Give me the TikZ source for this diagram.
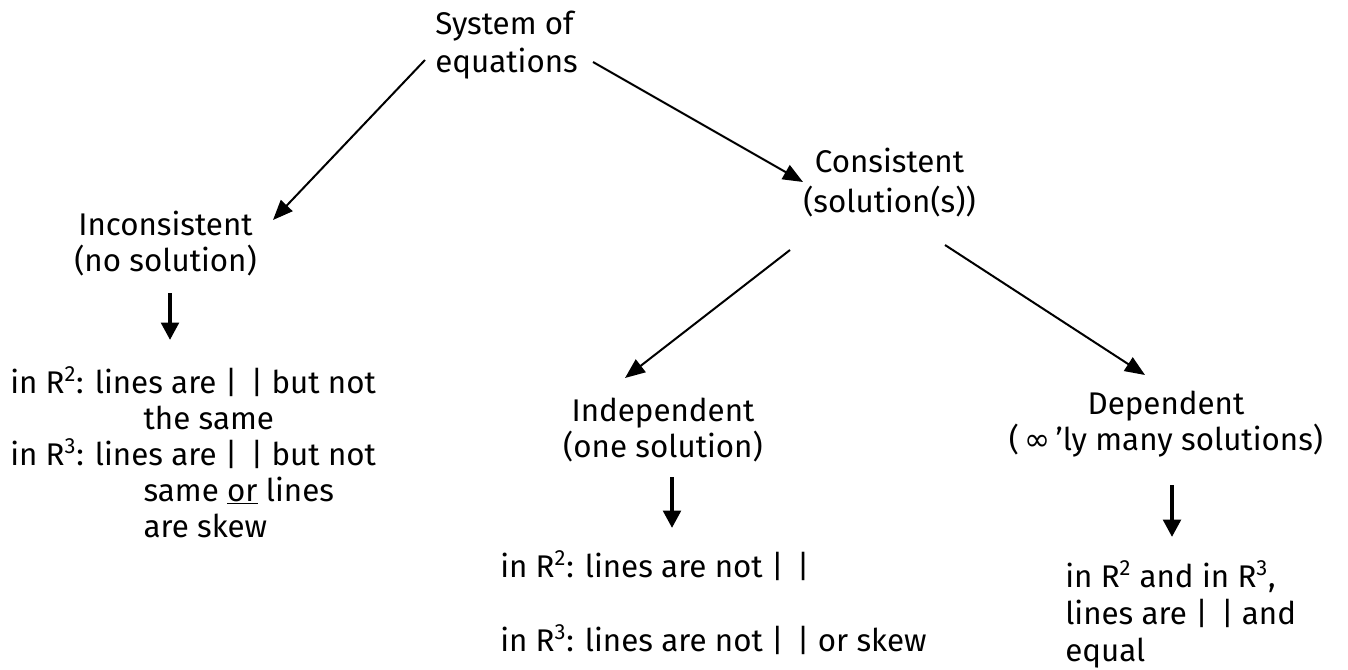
\documentclass[tikz,border=0pt]{standalone}
\usepackage{fontspec}
\setmainfont{Fira Sans}
\newfontfamily\symfont{DejaVu Sans}
\usetikzlibrary{arrows.meta}
\newcommand{\bars}{|\hspace{0.42em}|}
\begin{document}
\begin{tikzpicture}[x=0.75pt,y=-0.75pt,
  txt/.style={inner sep=0pt, font=\fontsize{23.5}{27}\selectfont},
  thinarrow/.style={line width=1.5pt, -{Triangle[length=15pt,width=12pt]}},
  thickarrow/.style={line width=3pt, -{Triangle[length=13pt,width=13pt]}}]
\useasboundingbox (0,0) rectangle (1348,670);
\node[txt, align=left, anchor=west] (sys) at (435,45) {System of\\[2pt]equations};
\node[txt, align=center, anchor=east] (inc) at (257,244) {Inconsistent\\(no solution)};
\node[txt, align=center, anchor=west] (con) at (803,183) {Consistent\\[3pt](solution(s))};
\node[txt, align=center, anchor=east] (ind) at (763,430) {Independent\\(one solution)};
\node[txt, align=center] (dep) at (1166,424) {Dependent\\({\symfont\,∞\,}’ly many solutions)};
\node[txt, align=left, anchor=north west] (incd) at (10,366)
  {in R\textsuperscript{2}: lines are \bars{} but not\\
   \hspace*{100pt}the same\\
   in R\textsuperscript{3}: lines are \bars{} but not\\
   \hspace*{100pt}same \underline{or} lines\\
   \hspace*{100pt}are skew};
\node[txt, align=left, anchor=north west] (indd) at (500,550)
  {in R\textsuperscript{2}: lines are not \bars\\[29pt]
   in R\textsuperscript{3}: lines are not \bars{} or skew};
\node[txt, align=left, anchor=north west] (depd) at (1065,560)
  {in R\textsuperscript{2} and in R\textsuperscript{3},\\[1pt]
   lines are \bars{} and\\[1pt]
   equal};
\coordinate (a1s) at (425,60);  \coordinate (a1e) at (273,220);
\coordinate (a2s) at (593,62);  \coordinate (a2e) at (803,182);
\coordinate (a3s) at (790,250); \coordinate (a3e) at (625,378);
\coordinate (a4s) at (945,245); \coordinate (a4e) at (1145,375);
\draw[thinarrow] (a1s) -- (a1e);
\draw[thinarrow] (a2s) -- (a2e);
\draw[thinarrow] (a3s) -- (a3e);
\draw[thinarrow] (a4s) -- (a4e);
\coordinate (b1s) at (170,293);  \coordinate (b1e) at (170,340);
\coordinate (b2s) at (672,477);  \coordinate (b2e) at (672,528);
\coordinate (b3s) at (1172,485); \coordinate (b3e) at (1172,537);
\draw[thickarrow] (b1s) -- (b1e);
\draw[thickarrow] (b2s) -- (b2e);
\draw[thickarrow] (b3s) -- (b3e);
\end{tikzpicture}
\end{document}
